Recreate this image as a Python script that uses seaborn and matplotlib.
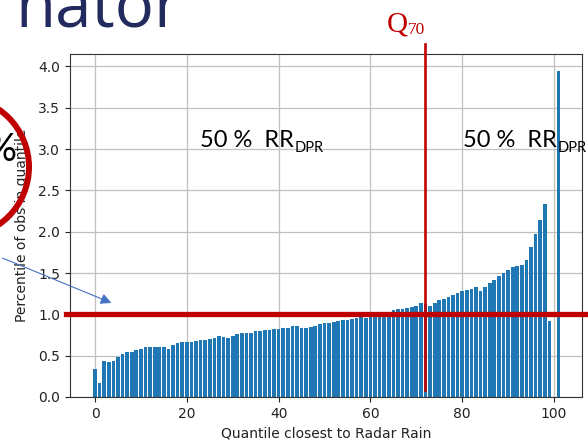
import numpy as np
import pandas as pd
import matplotlib
matplotlib.use("Agg")
import matplotlib.pyplot as plt
from matplotlib.patches import Circle, FancyArrowPatch
from matplotlib.transforms import Affine2D
import seaborn as sns

# ---- data ----
quantiles = list(range(0, 102))
obs_percent = [
    0.34, 0.17, 0.43, 0.42, 0.43, 0.48, 0.52, 0.54, 0.55, 0.57,
    0.585, 0.60, 0.60, 0.60, 0.61, 0.60, 0.585, 0.63, 0.655, 0.66,
    0.665, 0.67, 0.68, 0.69, 0.69, 0.70, 0.71, 0.74, 0.72, 0.71,
    0.74, 0.76, 0.77, 0.77, 0.78, 0.80, 0.80, 0.81, 0.81, 0.82,
    0.82, 0.83, 0.84, 0.86, 0.86, 0.84, 0.84, 0.85, 0.86, 0.88,
    0.89, 0.90, 0.91, 0.92, 0.93, 0.93, 0.94, 0.96, 0.97, 0.95,
    0.98, 1.00, 1.01, 1.02, 1.03, 1.05, 1.06, 1.07, 1.08, 1.09,
    1.10, 1.14, 1.12, 1.10, 1.14, 1.17, 1.19, 1.21, 1.23, 1.26,
    1.285, 1.29, 1.305, 1.325, 1.285, 1.325, 1.38, 1.42, 1.47, 1.50,
    1.54, 1.57, 1.59, 1.60, 1.66, 1.81, 1.97, 2.14, 2.33, 0.92,
    0.0, 3.95,
]
x_ticks = [0, 20, 40, 60, 80, 100]
y_ticks = [0.0, 0.5, 1.0, 1.5, 2.0, 2.5, 3.0, 3.5, 4.0]
reference_level = 1.0
q70_position = 72
x_label = "Quantile closest to Radar Rain"
y_label = "Percentile of obs in quantile"
half_label_main = "50 %  RR"
half_label_sub = "DPR"
title_fragment = "nator"

df = pd.DataFrame({"quantile": quantiles, "pct": obs_percent})

W, H = 588, 442
fig = plt.figure(figsize=(W / 100, H / 100), dpi=100)
ax = fig.add_axes([70 / W, 1 - 397 / H, (582 - 70) / W, (397 - 54) / H])

sns.barplot(data=df, x="quantile", y="pct", native_scale=True, ax=ax,
            color="#1f77b4", saturation=1, linewidth=0, width=0.8, zorder=2)

ax.set_xlim(-5.45, 106.1)
ax.set_ylim(0, 4.15)
ax.set_xticks(x_ticks)
ax.set_xticklabels([str(v) for v in x_ticks])
ax.set_yticks(y_ticks)
ax.set_yticklabels([f"{v:.1f}" for v in y_ticks])
ax.grid(True, color="#c0c0c0", linewidth=0.9, zorder=0)
ax.set_axisbelow(True)
ax.tick_params(direction="out", length=3.5, width=0.8, labelsize=10, colors="#222222")
for s in ax.spines.values():
    s.set_color("#333333")
    s.set_linewidth(0.8)
ax.set_xlabel(x_label, fontsize=10, color="#222222")
ax.set_ylabel(y_label, fontsize=10, color="#222222", labelpad=7)

red = "#C00000"
# horizontal reference line (extends beyond the axes)
ax.axhline(reference_level, xmin=(66 - 70) / 512, xmax=(590 - 70) / 512,
           color=red, linewidth=3.8, clip_on=False, zorder=5)
# vertical Q70 line
ylo, yhi = ax.get_ylim()
ax.axvline(q70_position, ymin=((397 - 390) / 82.5) / yhi, ymax=((397 - 45) / 82.5) / yhi,
           color=red, linewidth=1.9, clip_on=False, zorder=5)

# pixel transform (origin top-left)
pix = Affine2D().scale(1, -1).translate(0, H)

def ftext(x, y, s, **kw):
    return fig.text(x / W, 1 - y / H, s, va="baseline", **kw)

renderer = fig.canvas.get_renderer()

def sub_text(x, y, main, sub, size, subsize, drop, color, family, gap=0.5):
    t = ftext(x, y, main, fontsize=size, color=color, family=family)
    bb = t.get_window_extent(renderer=renderer)
    fig.text((bb.x1 + gap) / W, 1 - (y + drop) / H, sub, va="baseline",
             fontsize=subsize, color=color, family=family)

# "50 %  RR_DPR" annotations
sub_text(200, 147, half_label_main, half_label_sub, 17, 10.5, 5, "black", "Lato")
sub_text(463, 147, half_label_main, half_label_sub, 17, 10.5, 5, "black", "Lato")

# Q70 label
sub_text(387, 31, "Q", "70", 21, 12.5, 2.5, red, "Liberation Serif", gap=0)

# slide title fragment
ftext(15, 27, title_fragment, fontsize=47, color="#232a5e", family="Open Sans")

# red circle with "%" partially visible at left
fig.add_artist(Circle((-41, 167), 70, transform=pix, fill=False,
                      edgecolor=red, linewidth=4.3, zorder=10))
ftext(16, 161, "%", fontsize=27, color="black", family="Lato", ha="right")

# blue arrow
fig.add_artist(FancyArrowPatch((0, 257), (114, 304), transform=pix,
                               arrowstyle="-|>", mutation_scale=16,
                               color="#4472C4", linewidth=0.8, zorder=10))

fig.savefig("out.png", dpi=100)
